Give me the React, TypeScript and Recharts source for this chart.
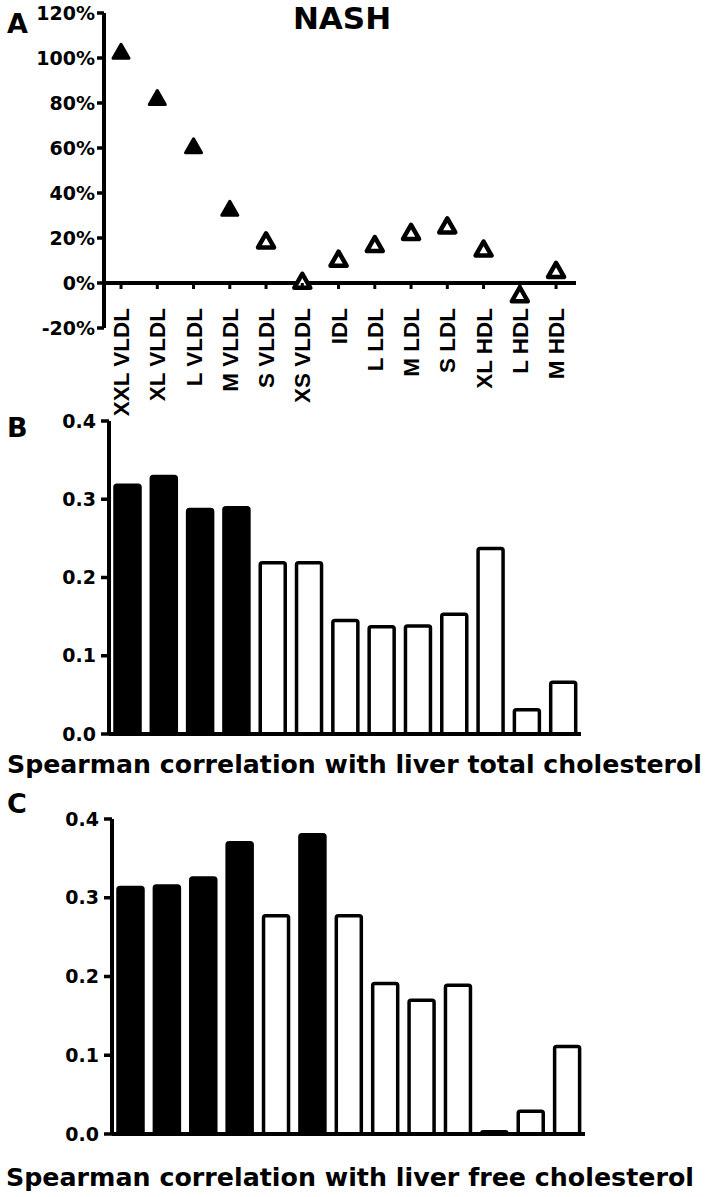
import React from 'react';
import { ScatterChart, Scatter, BarChart, Bar, Cell, XAxis, YAxis, ReferenceLine } from 'recharts';

const categories = ['XXL VLDL', 'XL VLDL', 'L VLDL', 'M VLDL', 'S VLDL', 'XS VLDL', 'IDL', 'L LDL', 'M LDL', 'S LDL', 'XL HDL', 'L HDL', 'M HDL'];

// panel A: % change in NASH
const nashChange = [103, 82.4, 61, 33.2, 18.9, 1, 10.8, 17.3, 22.7, 25.6, 15.3, -5, 5.8];
const nashSignificant = [true, true, true, true, false, false, false, false, false, false, false, false, false];

// panel B: Spearman rho with liver total cholesterol
const totalCholRho = [0.318, 0.329, 0.287, 0.289, 0.219, 0.219, 0.145, 0.137, 0.138, 0.153, 0.237, 0.031, 0.066];
const totalCholSignificant = [true, true, true, true, false, false, false, false, false, false, false, false, false];

// panel C: Spearman rho with liver free cholesterol
const freeCholRho = [0.313, 0.315, 0.325, 0.37, 0.277, 0.38, 0.277, 0.191, 0.17, 0.189, 0.003, 0.029, 0.111];
const freeCholSignificant = [true, true, true, true, false, true, false, false, false, false, false, false, false];

const percentTicks = [-20, 0, 20, 40, 60, 80, 100, 120];
const rhoTicks = [0, 0.1, 0.2, 0.3, 0.4];

const FONT = 'DejaVu Sans';
const tickStyle = { fill: '#000', fontSize: 19, fontWeight: 'bold', fontFamily: FONT };

// panel A plot geometry (used to place the zero axis)
const A_TOP = 13;
const A_BOTTOM = 328;
const A_HEIGHT = 420;
const yMin = percentTicks[0];
const yMax = percentTicks[percentTicks.length - 1];
const zeroY = A_TOP + ((A_BOTTOM - A_TOP) * yMax) / (yMax - yMin);

function Triangle(props: any) {
  const { cx, cy, payload } = props;
  if (cx == null || cy == null) return null;
  const pts = `${cx},${cy - 7} ${cx + 8},${cy + 7} ${cx - 8},${cy + 7}`;
  return payload.sig ? (
    <polygon points={pts} fill="#000" stroke="#000" strokeWidth={3} strokeLinejoin="round" />
  ) : (
    <polygon points={pts} fill="#fff" stroke="#000" strokeWidth={4.5} strokeLinejoin="round" />
  );
}

function CategoryTick(props: any) {
  const { x, payload } = props;
  const label = categories[payload.value];
  return (
    <g>
      <line x1={x} y1={zeroY} x2={x} y2={zeroY + 6} stroke="#000" strokeWidth={3} />
      <text
        x={x + 8}
        y={zeroY + 25}
        transform={`rotate(-90 ${x + 8} ${zeroY + 25})`}
        textAnchor="end"
        fill="#000"
        fontSize={22.5}
        fontWeight="bold"
        fontFamily="Liberation Sans"
      >
        {label}
      </text>
    </g>
  );
}

function RhoBars({ values, significant, axisWidth, marginRight, marginTop }: {
  values: number[];
  significant: boolean[];
  axisWidth: number;
  marginRight: number;
  marginTop: number;
}) {
  const data = categories.map((name, i) => ({ name, value: values[i], sig: significant[i] }));
  return (
    <BarChart width={705} height={350} data={data} margin={{ top: marginTop, right: marginRight, left: 0, bottom: 0 }}>
      <XAxis
        dataKey="name"
        height={16}
        tick={false}
        interval={0}
        axisLine={{ stroke: '#000', strokeWidth: 4 }}
        tickLine={{ stroke: '#000', strokeWidth: 3.5 }}
        tickSize={8}
      />
      <YAxis
        type="number"
        domain={[0, 0.4]}
        ticks={rhoTicks}
        width={axisWidth}
        tickFormatter={(v: number) => v.toFixed(1)}
        tick={tickStyle}
        axisLine={{ stroke: '#000', strokeWidth: 4 }}
        tickLine={{ stroke: '#000', strokeWidth: 3.5 }}
        tickSize={8}
        tickMargin={5}
      />
      <Bar dataKey="value" barSize={25} stroke="#000" strokeWidth={3.5} radius={[2, 2, 0, 0]} isAnimationActive={false}>
        {data.map((d) => (
          <Cell key={d.name} fill={d.sig ? '#000' : '#fff'} />
        ))}
      </Bar>
    </BarChart>
  );
}

export default function App() {
  const aData = categories.map((name, i) => ({ idx: i, name, value: nashChange[i], sig: nashSignificant[i] }));

  return (
    <div style={{ position: 'absolute', left: 0, top: 0, width: 705, height: 1197, background: '#fff' }}>
      <div style={{ position: 'absolute', left: 0, top: 0 }}>
        <ScatterChart width={705} height={A_HEIGHT} margin={{ top: A_TOP, right: 129, left: 0, bottom: 0 }}>
          <XAxis
            type="number"
            dataKey="idx"
            domain={[-0.47, 12.55]}
            ticks={categories.map((_, i) => i)}
            interval={0}
            height={A_HEIGHT - A_BOTTOM}
            axisLine={false}
            tickLine={false}
            tick={<CategoryTick />}
          />
          <YAxis
            type="number"
            dataKey="value"
            domain={[yMin, yMax]}
            ticks={percentTicks}
            width={104}
            tickFormatter={(v: number) => `${v}%`}
            tick={tickStyle}
            axisLine={{ stroke: '#000', strokeWidth: 4 }}
            tickLine={{ stroke: '#000', strokeWidth: 3.5 }}
            tickSize={7}
            tickMargin={2}
          />
          <ReferenceLine y={0} stroke="#000" strokeWidth={4} />
          <Scatter data={aData} shape={<Triangle />} isAnimationActive={false} />
        </ScatterChart>
      </div>

      <div style={{ position: 'absolute', left: 0, top: 400 }}>
        <RhoBars values={totalCholRho} significant={totalCholSignificant} axisWidth={109} marginRight={124} marginTop={21} />
      </div>

      <div style={{ position: 'absolute', left: 0, top: 800 }}>
        <RhoBars values={freeCholRho} significant={freeCholSignificant} axisWidth={112} marginRight={120} marginTop={19} />
      </div>

      <svg width={705} height={1197} style={{ position: 'absolute', left: 0, top: 0, pointerEvents: 'none' }}>
        <g fill="#000" fontFamily={FONT} fontWeight="bold">
          <text x={7} y={33} fontSize={27}>A</text>
          <text x={342} y={29} fontSize={31} textAnchor="middle">NASH</text>
          <text x={7} y={437} fontSize={27}>B</text>
          <text x={7} y={813} fontSize={27}>C</text>
          <text x={7} y={773} fontSize={25} textLength={695} lengthAdjust="spacingAndGlyphs">
            Spearman correlation with liver total cholesterol
          </text>
          <text x={6} y={1186} fontSize={25} textLength={688} lengthAdjust="spacingAndGlyphs">
            Spearman correlation with liver free cholesterol
          </text>
        </g>
      </svg>
    </div>
  );
}
